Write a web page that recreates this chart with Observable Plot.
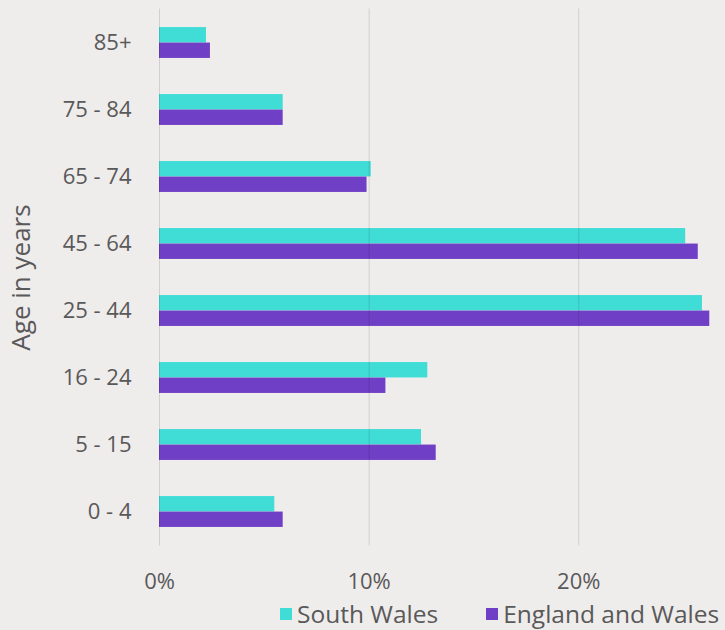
<!DOCTYPE html>
<html>
<head>
<meta charset="utf-8">
<script src="https://cdn.jsdelivr.net/npm/d3@7"></script>
<script src="https://cdn.jsdelivr.net/npm/@observablehq/plot@0.6"></script>
<style>
  html, body { margin: 0; padding: 0; background: #efecec; }
  #wrap { position: relative; width: 725px; height: 630px; font-family: "Open Sans", sans-serif; }
  #legend { position: absolute; top: 597px; left: 280px; display: flex; font-size: 24.5px; color: #595959; white-space: nowrap; }
  .item { display: flex; align-items: center; margin-right: 48px; }
  .sw { width: 12px; height: 12px; margin-right: 5px; }
</style>
</head>
<body>
<div id="wrap"></div>
<script>
const ages = ["85+", "75 - 84", "65 - 74", "45 - 64", "25 - 44", "16 - 24", "5 - 15", "0 - 4"];
const southWales = [0.0224, 0.059, 0.101, 0.251, 0.259, 0.128, 0.125, 0.055];
const englandWales = [0.0243, 0.059, 0.099, 0.257, 0.2625, 0.108, 0.132, 0.059];
const seriesNames = ["South Wales", "England and Wales"];
const seriesColors = ["#40dcd6", "#6f3fc6"];
const xTicks = [0, 0.1, 0.2];

const data = ages.flatMap((a, i) => [
  {age: a, series: seriesNames[0], value: southWales[i]},
  {age: a, series: seriesNames[1], value: englandWales[i]}
]);

const width = 725, height = 598;
const marginTop = 8.5, marginBottom = height - 545.5;
const step = (height - marginTop - marginBottom) / ages.length;
const barH = 15.5;

const chart = Plot.plot({
  width, height,
  marginLeft: 159, marginRight: 0, marginTop, marginBottom,
  style: {background: "transparent", fontFamily: "Open Sans, sans-serif", fontSize: "22px", color: "#595959", overflow: "visible"},
  x: {domain: [0, 0.27], ticks: xTicks, tickFormat: d3.format(".0%"), tickSize: 0, tickPadding: 27, label: null},
  y: {domain: ages, padding: 0, tickSize: 0, tickPadding: 28, label: "Age in years", labelAnchor: "center", labelArrow: false, labelOffset: 148},
  color: {domain: seriesNames, range: seriesColors},
  marks: [
    Plot.barX(data.filter(d => d.series === seriesNames[0]), {
      x: "value", y: "age", fill: "series",
      insetTop: step / 2 - barH, insetBottom: step / 2
    }),
    Plot.barX(data.filter(d => d.series === seriesNames[1]), {
      x: "value", y: "age", fill: "series",
      insetTop: step / 2, insetBottom: step / 2 - barH
    }),
    Plot.ruleX(xTicks, {stroke: "#000", strokeOpacity: 0.12, strokeWidth: 1})
  ]
});

chart.querySelectorAll("text").forEach(t => {
  if (t.textContent === "Age in years") { t.style.fontSize = "26px"; }
});

const wrap = document.getElementById("wrap");
wrap.appendChild(chart);

const legend = document.createElement("div");
legend.id = "legend";
seriesNames.forEach((n, i) => {
  const item = document.createElement("div");
  item.className = "item";
  const sw = document.createElement("span");
  sw.className = "sw";
  sw.style.background = seriesColors[i];
  item.appendChild(sw);
  item.appendChild(document.createTextNode(n));
  legend.appendChild(item);
});
wrap.appendChild(legend);
</script>
</body>
</html>
